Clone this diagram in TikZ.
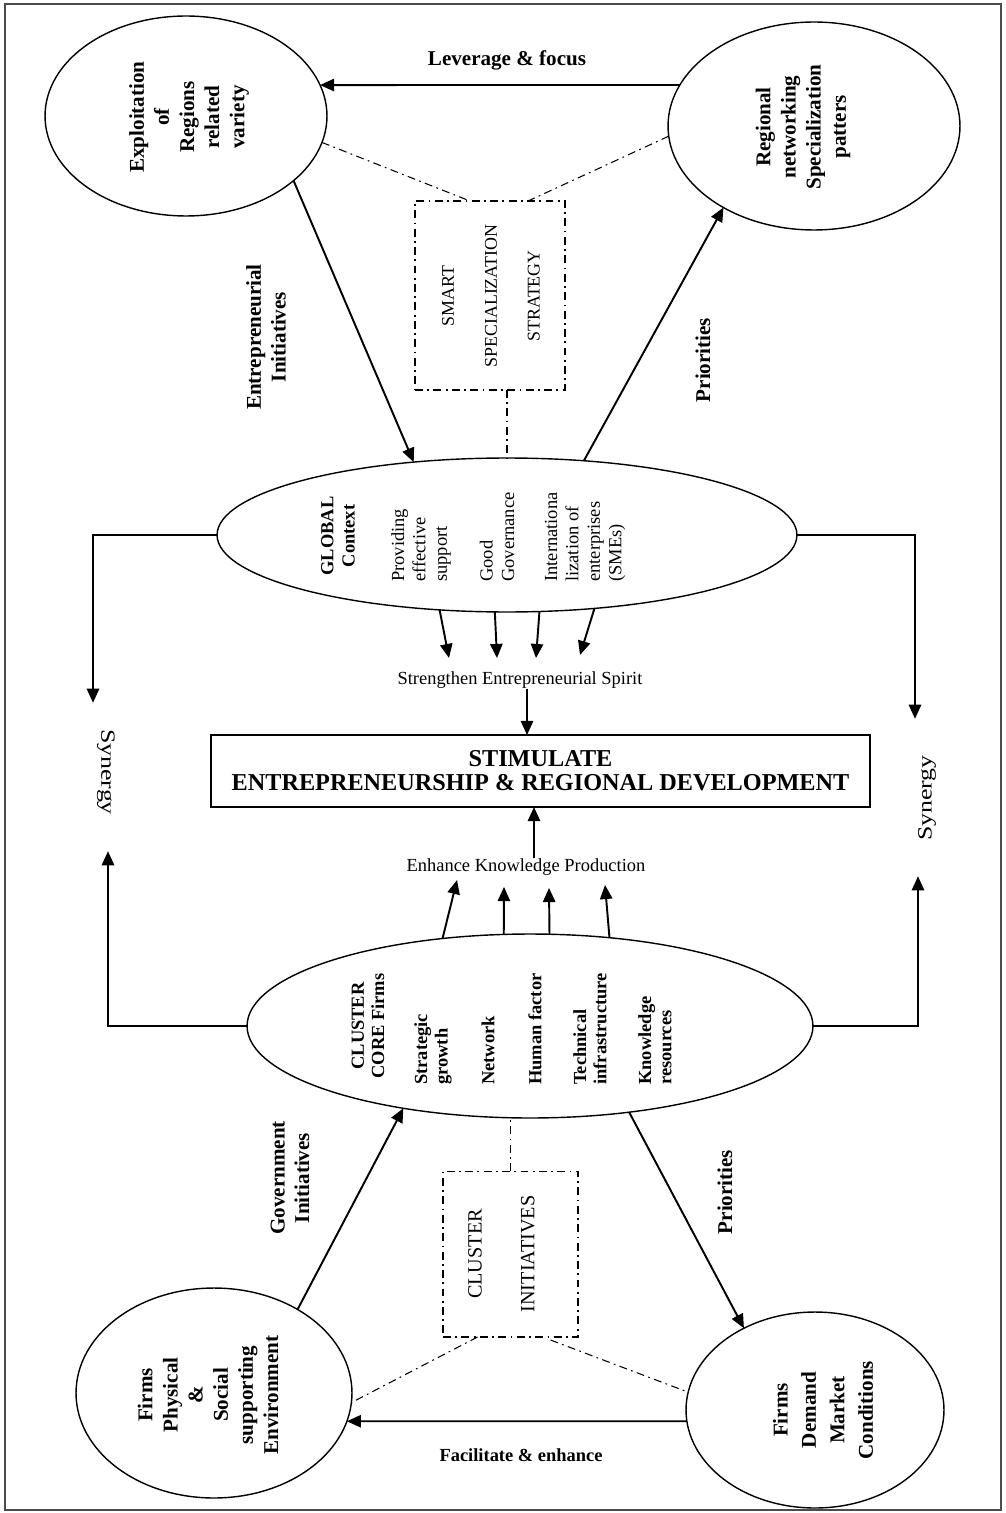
\documentclass[tikz,border=0pt]{standalone}
\usepackage{fontspec}
\setmainfont{Liberation Serif}
\usetikzlibrary{shapes.geometric,arrows.meta}

\begin{document}
\begin{tikzpicture}
% Diagram on a pixel grid, origin top left, y pointing down
\def\pxsz{0.02cm}
\providecommand{\figLineColor}{black}
\providecommand{\figFrameColor}{black!70}
\providecommand{\figArrowWidth}{1.1pt}
\providecommand{\figShapeWidth}{0.8pt}
\tikzset{
  ell/.style={draw=\figLineColor, line width=\figShapeWidth, ellipse, inner sep=0pt, outer sep=0pt},
  solidbox/.style={draw=\figLineColor, line width=1pt, rectangle, inner sep=0pt, outer sep=0pt},
  dashbox/.style={draw=\figLineColor, line width=0.6pt, rectangle, inner sep=0pt, outer sep=0pt,
    dash pattern=on 4.5pt off 2.5pt on 1pt off 2.5pt},
  elltext/.style={font=\fontsize{12}{14.3}\selectfont\bfseries, align=center, rotate=90, inner sep=0pt},
  arrlabel/.style={font=\fontsize{12}{14}\selectfont\bfseries, align=center, inner sep=0pt},
  globtext/.style={font=\fontsize{10.5}{12.2}\selectfont, align=left, rotate=90, anchor=west, inner sep=0pt},
  clustext/.style={font=\fontsize{10.5}{11.6}\selectfont\bfseries, align=left, rotate=90, anchor=west, inner sep=0pt},
  plaintext/.style={font=\fontsize{10.5}{12}\selectfont, inner sep=0pt},
  arr/.style={draw=\figLineColor, line width=\figArrowWidth, -{Triangle[length=8pt,width=7pt]}},
  dd/.style={draw=\figLineColor, line width=0.6pt, dash pattern=on 4.5pt off 2.5pt on 1pt off 2.5pt}
}
\begin{scope}[x=\pxsz, y=-\pxsz, line cap=butt, line join=miter]
  \useasboundingbox (0,0) rectangle (1006,1513);
  % Outer frame
  \draw[draw=\figFrameColor, line width=1pt] (5,4) rectangle (1001,1510);

  % Top ellipses
  \node[ell, minimum width=5.64cm, minimum height=4cm] (expl) at (186,116) {};
  \node[elltext] (expltxt) at (189,117) {Exploitation\\of\\Regions\\related\\variety};
  \node[ell, minimum width=5.84cm, minimum height=4.16cm] (netw) at (814,126) {};
  \node[elltext] (netwtxt) at (803,127) {Regional\\networking\\Specialization\\patters};

  % Smart specialization box
  \node[dashbox, minimum width=3cm, minimum height=3.78cm] (smart) at (490,295.5) {};
  \node[font=\fontsize{10.2}{24.4}\selectfont, align=center, rotate=90, inner sep=0pt] (smarttxt) at (491,296)
    {SMART\\SPECIALIZATION\\STRATEGY};

  % Global context ellipse
  \node[ell, minimum width=11.6cm, minimum height=3.08cm] (glob) at (507,535) {};
  \node[font=\fontsize{10.5}{12.2}\selectfont\bfseries, align=center, rotate=90, inner sep=0pt] (globhead) at (338,536) {GLOBAL\\Context};
  \node[globtext] (globa) at (421,582) {Providing\\effective\\support};
  \node[globtext] (globb) at (497,582) {Good\\Governance};
  \node[globtext] (globc) at (585,582) {Internationa\\lization of\\enterprises\\(SMEs)};

  % Centre
  \node[plaintext] (strg) at (520,680) {Strengthen Entrepreneurial Spirit};
  \node[solidbox, minimum width=13.18cm, minimum height=1.44cm] (stim) at (540.5,771) {};
  \node[font=\fontsize{13.8}{13.5}\selectfont\bfseries, align=center, inner sep=0pt] (stimtxt) at (stim)
    {STIMULATE\\ENTREPRENEURSHIP \& REGIONAL DEVELOPMENT};
  \node[plaintext] (enh) at (526,867) {Enhance Knowledge Production};
  \node[font=\fontsize{11.5}{12}\selectfont, rotate=-90, inner sep=0pt] (synL) at (106,772) {\scalebox{1.28}[1]{Synergy}};
  \node[font=\fontsize{11.5}{12}\selectfont, rotate=90, inner sep=0pt] (synR) at (927,798) {\scalebox{1.28}[1]{Synergy}};

  % Cluster ellipse
  \node[ell, minimum width=11.32cm, minimum height=3.68cm] (clus) at (530,1026) {};
  \node[font=\fontsize{10.5}{11.6}\selectfont\bfseries, align=center, rotate=90, inner sep=0pt] (clushead) at (368,1026) {CLUSTER\\CORE Firms};
  \node[clustext] (clusa) at (433,1085) {Strategic\\growth};
  \node[clustext] (clusb) at (488,1085) {Network};
  \node[clustext] (clusc) at (535,1085) {Human factor};
  \node[clustext] (clusd) at (590,1085) {Technical\\infrastructure};
  \node[clustext] (cluse) at (655,1085) {Knowledge\\resources};

  % Cluster initiatives box
  \node[dashbox, minimum width=2.7cm, minimum height=3.32cm] (clin) at (510.5,1254) {};
  \node[font=\fontsize{11.5}{30}\selectfont, align=center, rotate=90, inner sep=0pt] (clintxt) at (501.5,1254)
    {CLUSTER\\INITIATIVES};

  % Bottom ellipses
  \node[ell, minimum width=5.52cm, minimum height=4.2cm] (envi) at (214,1393) {};
  \node[elltext] (envitxt) at (208,1395) {Firms\\Physical\\\&\\Social\\supporting\\Environment};
  \node[ell, minimum width=5.16cm, minimum height=3.92cm] (dema) at (815,1410) {};
  \node[elltext, font=\fontsize{12}{16.2}\selectfont\bfseries] (dematxt) at (823,1410) {Firms\\Demand\\Market\\Conditions};

  % Arrow labels
  \node[arrlabel] (levlbl) at (507,60) {Leverage \& focus};
  \node[arrlabel, rotate=90] (entrlbl) at (266,337) {Entrepreneurial\\Initiatives};
  \node[arrlabel, rotate=90] (prioalbl) at (703,360) {Priorities};
  \node[arrlabel, rotate=90] (govlbl) at (290,1178) {Government\\Initiatives};
  \node[arrlabel, rotate=90] (priodlbl) at (725,1192) {Priorities};
  \node[arrlabel, font=\fontsize{10.5}{12}\selectfont\bfseries] (faclbl) at (521,1455) {Facilitate \& enhance};

  % Top connectors
  \draw[arr] (netw.163) -- (expl.13);
  \draw[arr] (expl.-31) -- (glob.142);
  \draw[arr] (glob.44) -- (netw.222);
  \draw[dd] (expl.-11) -- ([shift={(-20,0)}]smart.north);
  \draw[dd] (netw.184) -- ([shift={(38,0)}]smart.north);
  \draw[dd] (smart.south -| glob.north) -- (glob.north);

  % Synergy connectors
  \draw[arr] (glob.west) -| ([shift={(-13,-26)}]synL.west);
  \draw[arr] (clus.west) -| ([shift={(2,36)}]synL.east);
  \draw[arr] (glob.east) -| ([shift={(-12,-36)}]synR.east);
  \draw[arr] (clus.east) -| ([shift={(-9,35)}]synR.west);

  % Into the centre box
  \draw[arr] (glob.-132) -- ([shift={(-71,-22)}]strg.center);
  \draw[arr] (glob.-99) -- ([shift={(-23,-22)}]strg.center);
  \draw[arr] (glob.-67) -- ([shift={(16,-22)}]strg.center);
  \draw[arr] (glob.-40) -- ([shift={(60,-25)}]strg.center);
  \draw[arr] ([shift={(7,0)}]strg.south) -- ([shift={(7,0)}]strg.south |- stim.north);
  \draw[arr] ([shift={(8,0)}]enh.north) -- ([shift={(8,0)}]enh.north |- stim.south);
  \draw[arr] (clus.135) -- ([shift={(-69,13)}]enh.center);
  \draw[arr] (clus.106) -- ([shift={(-22,20)}]enh.center);
  \draw[arr] (clus.78) -- ([shift={(23,21)}]enh.center);
  \draw[arr] (clus.48) -- ([shift={(79,18)}]enh.center);

  % Bottom connectors
  \draw[arr] (envi.45) -- (clus.213);
  \draw[arr] (clus.-41) -- (dema.131);
  \draw[arr] (dema.185) -- (envi.-12);
  \draw[dd] (clin.north) -- (clin.north |- clus.south);
  \draw[dd] ([shift={(-33,0)}]clin.south) -- (envi.-4);
  \draw[dd] ([shift={(40,3)}]clin.south) -- (dema.172);
\end{scope}
\end{tikzpicture}
\end{document}
